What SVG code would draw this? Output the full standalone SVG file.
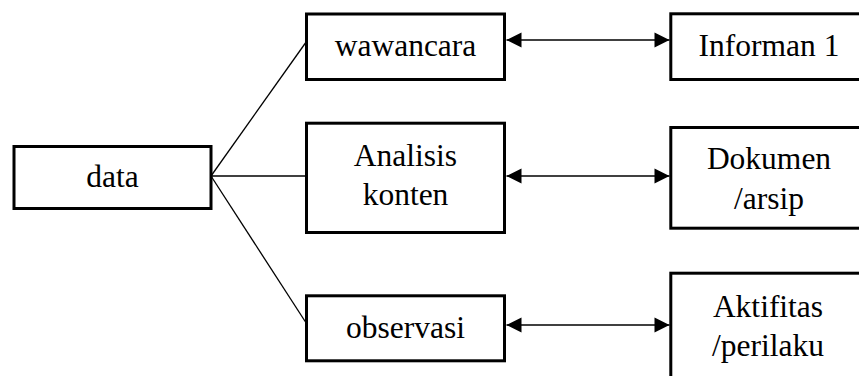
<svg xmlns="http://www.w3.org/2000/svg" width="859" height="376" viewBox="0 0 859 376">
  <style>
    .box { fill: #ffffff; stroke: #000000; stroke-width: 3; }
    .lbl { font-family: 'Liberation Serif', 'Times New Roman', Times, 'DejaVu Serif', serif; font-size: 31.5px; fill: #000000; text-anchor: middle; }
    .link { fill: none; stroke: #000000; stroke-width: 1.3; }
    .bi { fill: none; stroke: #000000; stroke-width: 1.3; marker-start: url(#headL); marker-end: url(#headR); }
  </style>
  <defs>
    <marker id="headR" markerUnits="userSpaceOnUse" markerWidth="16" markerHeight="16" viewBox="0 0 15 16" refX="15" refY="8" orient="auto">
      <path d="M0,0.5 L15,8 L0,15.5 Z" fill="#000000"/>
    </marker>
    <marker id="headL" markerUnits="userSpaceOnUse" markerWidth="16" markerHeight="16" viewBox="0 0 15 16" refX="0" refY="8" orient="auto">
      <path d="M15,0.5 L0,8 L15,15.5 Z" fill="#000000"/>
    </marker>
  </defs>

  <g id="connectors">
    <line class="link" x1="211" y1="176" x2="306.5" y2="41.5"/>
    <line class="link" x1="211" y1="176" x2="306.5" y2="176"/>
    <line class="link" x1="211" y1="176" x2="306.5" y2="323.5"/>
    <line class="bi" x1="506.5" y1="40" x2="669.5" y2="40"/>
    <line class="bi" x1="506.5" y1="176" x2="669.5" y2="176"/>
    <line class="bi" x1="506.5" y1="325" x2="669.5" y2="325"/>
  </g>

  <g font-family="Liberation Serif, Times New Roman, serif">
  <g id="data">
    <rect class="box" x="14" y="146.5" width="197" height="62"/>
    <text class="lbl" x="112.5" y="187">data</text>
  </g>

  <g id="wawancara">
    <rect class="box" x="306.5" y="14" width="198" height="65.5"/>
    <text class="lbl" x="405.5" y="56">wawancara</text>
  </g>

  <g id="analisis-konten">
    <rect class="box" x="306.5" y="123.2" width="198" height="109.3"/>
    <text class="lbl" x="405.5" y="165.5">Analisis</text>
    <text class="lbl" x="405.5" y="205">konten</text>
  </g>

  <g id="observasi">
    <rect class="box" x="306.5" y="295.8" width="198" height="65"/>
    <text class="lbl" x="405.5" y="337.5">observasi</text>
  </g>

  <g id="informan-1">
    <rect class="box" x="670.8" y="13.8" width="200" height="65.7"/>
    <text class="lbl" x="769" y="56">Informan 1</text>
  </g>

  <g id="dokumen-arsip">
    <rect class="box" x="670.8" y="127.5" width="200" height="100.7"/>
    <text class="lbl" x="769" y="169">Dokumen</text>
    <text class="lbl" x="769" y="209">/arsip</text>
  </g>

  <g id="aktifitas-perilaku">
    <rect class="box" x="670.8" y="273.2" width="200" height="120"/>
    <text class="lbl" x="768" y="317">Aktifitas</text>
    <text class="lbl" x="768" y="355.5">/perilaku</text>
  </g>
  </g>
</svg>
